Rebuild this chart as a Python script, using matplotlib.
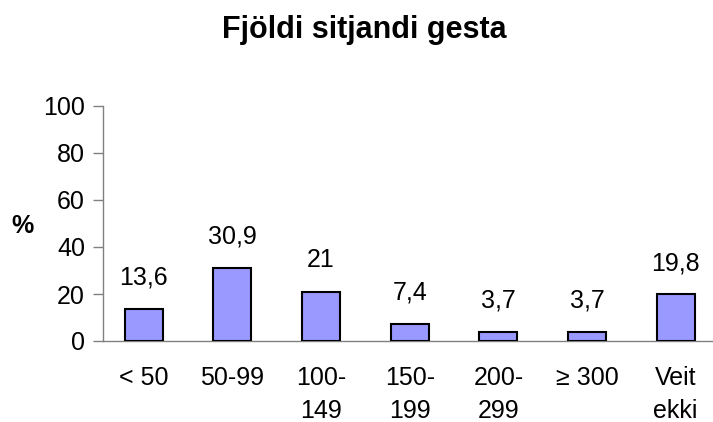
import matplotlib
matplotlib.use("Agg")
import matplotlib.pyplot as plt

categories = ["< 50", "50-99", "100-\n149", "150-\n199", "200-\n299", "≥ 300", "Veit\nekki"]
values = [13.6, 30.9, 21, 7.4, 3.7, 3.7, 19.8]
value_labels = ["13,6", "30,9", "21", "7,4", "3,7", "3,7", "19,8"]
yticks = [0, 20, 40, 60, 80, 100]

plt.rcParams["font.family"] = ["Liberation Sans", "DejaVu Sans"]

fig = plt.figure(figsize=(7.13, 4.22), dpi=100)
ax = fig.add_axes([103 / 713, 81 / 422, 617 / 713, 235 / 422])

x = range(len(categories))
ax.bar(x, values, width=0.43, color="#9999FF", edgecolor="black", linewidth=1.5, zorder=3)

for i, (v, lab) in enumerate(zip(values, value_labels)):
    ax.annotate(lab, (i, v), xytext=(0, 14), textcoords="offset points",
                ha="center", va="bottom", fontsize=18)

ax.set_xlim(-0.46, 6.5)
ax.set_ylim(0, 100)
ax.set_yticks(yticks)
ax.set_yticklabels([str(t) for t in yticks], fontsize=18)
ax.set_xticks(list(x))
ax.set_xticklabels(categories, fontsize=18, linespacing=1.45, va="top")
ax.tick_params(axis="x", length=0, pad=18)
ax.tick_params(axis="y", length=7, color="#808080", width=1, pad=6)

for s in ["top", "right"]:
    ax.spines[s].set_visible(False)
for s in ["left", "bottom"]:
    ax.spines[s].set_color("#808080")
    ax.spines[s].set_linewidth(1)

fig.text(22 / 713, 1 - 226 / 422, "%", fontsize=18, fontweight="bold", ha="center", va="center")
fig.text(364 / 713, 1 - 30 / 422, "Fjöldi sitjandi gesta", fontsize=22, fontweight="bold",
         ha="center", va="center")

fig.savefig("out.png", dpi=100)
